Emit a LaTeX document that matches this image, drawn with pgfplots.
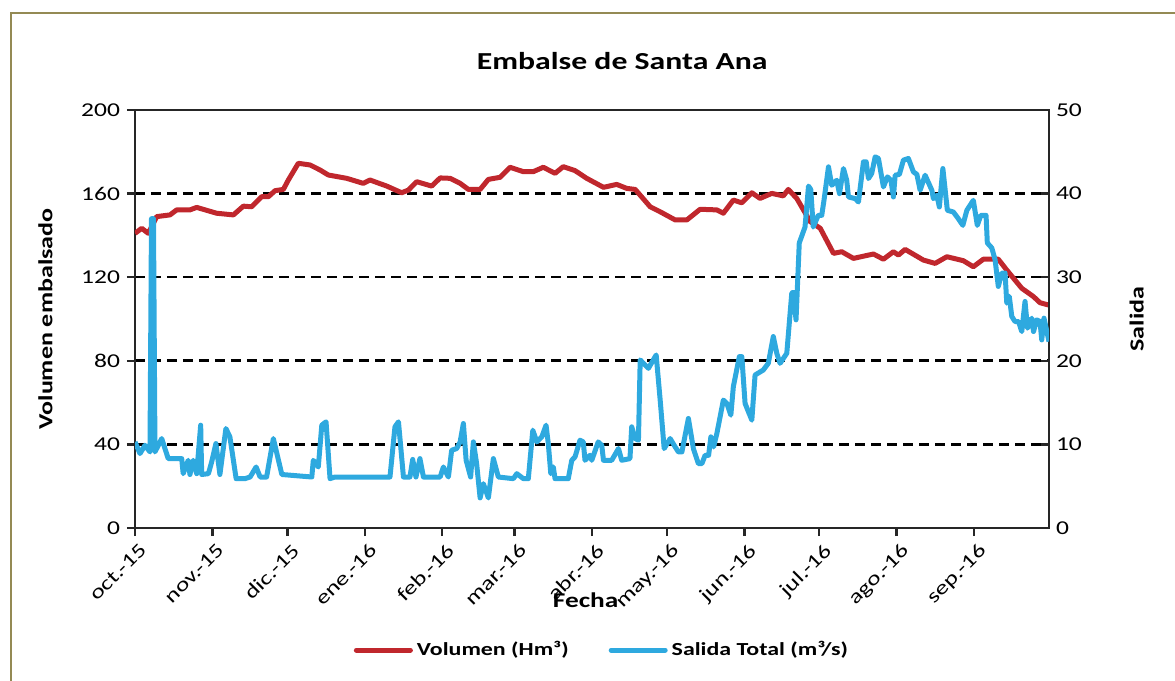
\documentclass[border=0pt]{standalone}
\usepackage{fontspec}
\setmainfont[FakeStretch=1.3]{Carlito}
\usepackage{pgfplots}
\usepackage{pgfplotstable}
\pgfplotsset{compat=1.18}

\definecolor{volred}{RGB}{192,39,45}
\definecolor{salblue}{RGB}{46,169,223}
\definecolor{axisgray}{RGB}{38,38,38}
\definecolor{framecol}{RGB}{148,138,84}

% day of hydrological year (0 = 1 Oct 2015), volume in Hm3
\pgfplotstableread{
d V
0 141
2.7 143.4
5.3 141
8.7 149
14 149.8
16.7 152.2
22 152.2
24.7 153.4
32.7 150.6
39.4 149.8
43.4 154
46.7 153.7
50.7 158.5
53.4 158.5
56.1 161.4
59.4 162
61.4 166.5
65.4 174.5
70.1 173.7
74.1 171.3
77.4 168.9
84.8 167.3
91.4 164.9
94.1 166.5
100.8 163.6
106.8 160.4
109.5 161.7
112.8 165.7
118.8 163.6
122.2 167.5
126.2 167.3
130.2 164.9
133.5 162
138.2 162
141.5 166.8
146.2 167.8
150.2 172.6
155.5 170.5
159.5 170.5
163.5 172.6
168.2 169.7
171.5 172.9
176.2 171
180.9 167.3
187.6 163
192.9 164.4
196.9 162.5
200.3 162
206.3 153.7
210.3 151.3
216.3 147.4
221 147.4
226.3 152.5
233 152.2
235.6 150.6
239.6 156.9
243 155.6
247 160.4
250.3 157.7
255 160.1
259.6 158.9
261.6 162
265 157.7
270.4 146.6
274.4 143.4
279.7 131.4
283 132.2
287.7 129
295.7 131.1
299.7 128.6
303.7 132.2
305.7 130.6
308.4 133.3
315.7 128.2
320.4 126.6
325.1 129.8
331.7 127.9
335.7 125
339.7 128.6
345.7 128.6
349.1 123.4
355.1 114.7
359.8 110.7
362.4 107.8
365.8 106.7
}\volumen

% total outflow in m3/s
\pgfplotstableread{
d S
0 10.3
2 8.9
4 9.9
6 9.1
6.6 37
7.4 37
8 9.1
10.7 10.7
13.3 8.3
18.7 8.3
19.3 6.5
21.3 8.1
22 6.4
23.3 8.1
24.7 6.5
26.3 12.3
26.7 6.4
29.4 6.5
30.7 7.9
32.4 10.1
34 6.4
36.4 11.9
38 10.9
40.5 5.9
44 5.9
46.1 6.1
48.5 7.3
50.1 6.1
52.7 6.1
55.4 10.7
58.8 6.4
70.8 6.1
71.4 8.1
73.4 7.3
74.8 12.3
76.5 12.7
78.1 5.9
80.1 6.1
102.1 6.1
104.1 12.1
105.5 12.7
107.5 6.1
110.1 6.1
111.2 8.2
112.5 6.1
114.1 8.3
115.5 6.1
122.2 6.1
123.5 7.3
125.5 6.1
126.8 9.3
128.8 9.5
130.2 10.3
131.5 12.5
132.6 8.1
134.4 6.1
135.5 10.3
136.8 7.7
138.2 3.6
139.5 5.3
141.5 3.6
143.5 8.3
145.5 6.1
151.5 5.9
152.9 6.5
155.5 5.9
157.5 5.9
159.3 11.7
160.9 10.3
162.9 10.9
164.6 12.3
165.5 10.1
166.5 6.5
167.5 7.3
168.2 5.9
173.5 5.9
174.9 8.1
176.2 8.5
178.2 10.5
179.5 10.3
180.2 8.1
182.2 8.7
182.9 8.1
185.5 10.3
186.9 9.9
187.6 8.1
190.9 8.1
193.6 9.5
194.9 8.1
198.2 8.3
198.9 12.1
200.3 10.7
201.6 10.5
202.3 20.1
205.6 19.1
208.7 20.7
210.3 15.3
211.9 9.5
214.3 10.7
216.3 9.7
217.6 9.1
219 9.1
221.6 13.1
223.6 9.5
225.6 7.7
227 7.7
228.3 8.7
229.7 8.7
230.6 10.9
231.7 9.7
233 11.3
235.6 15.3
237 14.9
238.6 13.5
239.6 16.9
242 20.5
243 20.5
244.3 14.9
247 12.9
248.3 18.3
251.6 18.9
253.6 19.7
255.6 22.9
257 20.9
258.3 19.7
261 20.9
263 28.1
263.6 28.2
264.7 24.9
266 34.1
268.3 36
269.7 40.9
270.6 40.5
271.6 36
273.6 37.4
275 37.4
275.9 39.2
277.7 43.2
279 41
281 41.6
282.1 40
283.7 43
285 41.6
285.7 39.6
288.4 39.4
289.7 39
291.7 43.8
292.8 43.8
293.7 41.8
295 42.4
296.4 44.4
297.7 44.2
299.7 40.8
301.3 42
302.7 41.6
303.7 39.6
304.4 42.2
306.1 42.3
307.7 44
309.7 44.2
311.7 42.6
313.1 42.3
314.4 40.4
316.4 42.2
319.1 40.4
319.7 39.4
321.1 39.8
322.1 38.4
323.5 43
325.3 38
327.7 37.8
329.7 37
331.5 36.2
333.1 38
335.7 39.2
337.3 36.2
338.7 37.4
340.8 37.4
341.3 34.1
343.1 33.5
344.4 32.1
345.7 28.9
347.1 30.5
348.4 30.5
349.1 26.9
350.1 27.7
351.1 25.3
352.4 24.7
353.8 24.7
355.1 23.5
356.4 27.1
357.4 23.9
359.1 25.1
359.8 23.5
361.1 24.9
362.4 24.7
363.1 22.5
364 25.1
366 22.3
}\salida

\pgfplotsset{
  base/.style={
    scale only axis, width=457pt, height=209pt,
    at={(67.5pt,76.5pt)}, anchor=south west,
    xmin=0, xmax=366,
    axis line style={axisgray, line width=1.4pt},
    major tick style={axisgray, line width=1.2pt},
    major tick length=4pt,
    /pgf/number format/assume math mode=true,
    ticklabel style={font=\fontsize{9.8}{11}\selectfont},
  },
}

\begin{document}
\begin{tikzpicture}
\useasboundingbox (0,0) rectangle (587.5pt,340.5pt);
\draw[framecol, line width=1pt] (5.25pt,-20pt) rectangle (620pt,334pt);

\begin{axis}[base,
  ymin=0, ymax=200, ytick={0,40,80,120,160,200},
  xtick={0,31,61,92,123,152,183,213,244,274,305,336},
  xticklabels={oct.-15,nov.-15,dic.-15,ene.-16,feb.-16,mar.-16,abr.-16,may.-16,jun.-16,jul.-16,ago.-16,sep.-16},
  xticklabel style={rotate=45, anchor=north east, xshift=2.5pt},
  xtick pos=left, ytick pos=left, tick align=outside,
  ymajorgrids,
  grid style={black, dashed, line width=1.3pt, dash pattern=on 5pt off 3pt},
  title={Embalse de Santa Ana},
  title style={at={(axis description cs:0.533,1.088)}, anchor=center, font=\bfseries\fontsize{12.2}{14}\selectfont},
  xlabel={Fecha},
  xlabel style={at={(axis description cs:0.493,-0.172)}, anchor=center, font=\bfseries\fontsize{10.5}{12}\selectfont},
  ylabel={Volumen embalsado},
  every axis y label/.style={at={(axis description cs:-0.098,0.5)}, rotate=90, anchor=center, font=\bfseries\fontsize{10}{12}\selectfont},
]
\addplot[volred, line width=2.5pt, line join=round] table[x=d, y=V] {\volumen};
\end{axis}

\begin{axis}[base,
  ymin=0, ymax=50, ytick={0,10,20,30,40,50},
  axis x line=none, axis y line*=right,
  ytick pos=right, tick align=inside,
  ylabel={Salida},
  every axis y label/.style={at={(axis description cs:1.096,0.5)}, rotate=90, anchor=center, font=\bfseries\fontsize{10}{12}\selectfont},
  legend columns=2,
  legend style={at={(0.512,-0.292)}, anchor=center, draw=none, fill=none,
    font=\bfseries\fontsize{9.2}{11}\selectfont,
    /tikz/every even column/.append style={column sep=18pt}},
  legend image code/.code={\draw[#1, line cap=round] (0pt,0pt) -- (27pt,0pt);},
]
\addlegendimage{volred, line width=2.5pt}
\addlegendentry{Volumen (Hm³)}
\addplot[salblue, line width=2.5pt, line join=round] table[x=d, y=S] {\salida};
\addlegendentry{Salida Total (m³/s)}
\end{axis}
\end{tikzpicture}
\end{document}
